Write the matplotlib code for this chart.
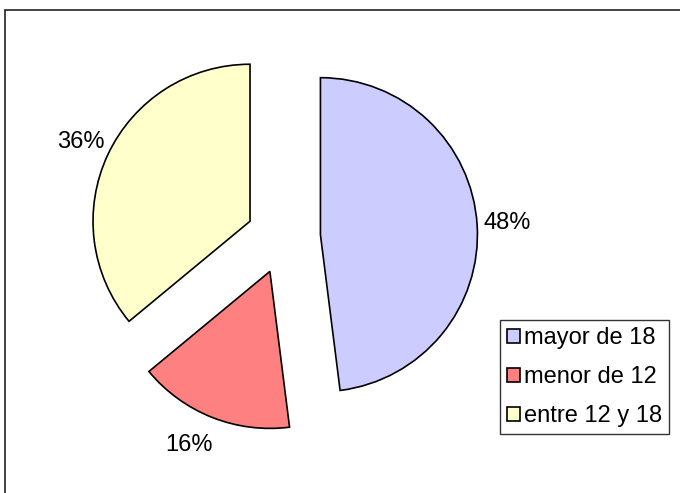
import matplotlib.pyplot as plt
from matplotlib.patches import Rectangle

plt.rcParams['font.family'] = ['Liberation Sans', 'DejaVu Sans']

labels = ['mayor de 18', 'menor de 12', 'entre 12 y 18']
values = [48, 16, 36]
colors = ['#CCCCFF', '#FF8080', '#FFFFCC']

fig = plt.figure(figsize=(6.8, 4.93), dpi=100)
ax = fig.add_axes([0, 0, 1, 1])

radius = 157
wedges, texts, autotexts = ax.pie(
    values, colors=colors, startangle=90, counterclock=False,
    center=(283.5, 256), radius=radius, explode=[37] * len(values),
    autopct='%1.0f%%', pctdistance=1.19,
    wedgeprops={'edgecolor': 'black', 'linewidth': 1.2},
    textprops={'fontsize': 17, 'color': 'black'},
    frame=True)
ax.set_xlim(0, 680)
ax.set_ylim(0, 493)
ax.set_aspect('equal')
ax.axis('off')

# Excel puts the small slice label a bit further left than the bisector
x, y = autotexts[1].get_position()
autotexts[1].set_position((x - 12, y))

leg = fig.legend(wedges, labels, loc='upper left',
                 bbox_to_anchor=(500 / 680, 1 - 320 / 493),
                 bbox_transform=fig.transFigure, borderaxespad=0,
                 fontsize=17, frameon=True, fancybox=False,
                 edgecolor='black', handlelength=0.55, handleheight=0.55,
                 handletextpad=0.15, labelspacing=0.72, borderpad=0.3)
leg.get_frame().set_linewidth(1.0)

fig.patches.append(Rectangle((4.5 / 680, -0.1), 1.2, 1 - 10.5 / 493 + 0.1,
                             transform=fig.transFigure, fill=False,
                             edgecolor='#222222', linewidth=1.2))

fig.savefig('out.png', dpi=100)
